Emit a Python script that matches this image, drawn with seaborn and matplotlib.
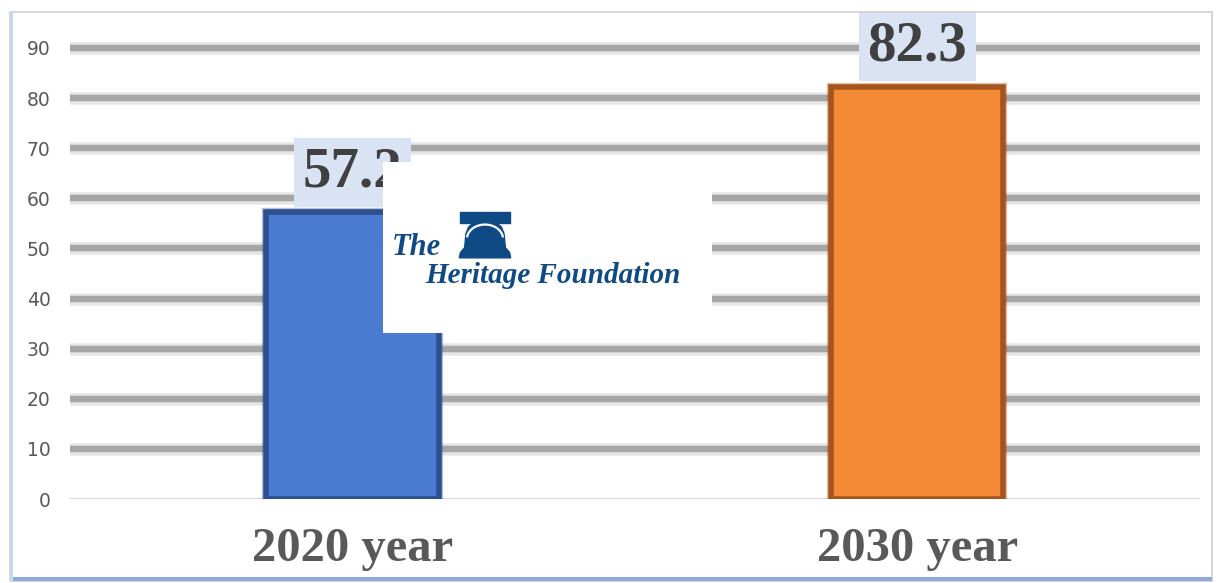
import matplotlib
matplotlib.use("Agg")
import matplotlib.pyplot as plt
import seaborn as sns
import pandas as pd
from matplotlib.patches import Rectangle, Polygon, Arc
import matplotlib.patheffects as pe

# chart data
years = ["2020 year", "2030 year"]
values = [57.2, 82.3]
bar_colors = ["#4a7bd0", "#f58a36"]
edge_colors = ["#2c4f8f", "#a5541c"]
y_ticks = list(range(0, 100, 10))

sns.set_style("white")
plt.rcParams["font.family"] = ["DejaVu Sans"]

fig = plt.figure(figsize=(12.18, 5.83), dpi=100)
ax = fig.add_axes([0.0575, 0.144, 0.9275, 0.791])

df = pd.DataFrame({"year": years, "value": values})
sns.barplot(data=df, x="year", y="value", hue="year", palette=bar_colors,
            width=0.305, saturation=1, legend=False, ax=ax, zorder=3)

for bar, ec in zip(ax.patches, edge_colors):
    bar.set_edgecolor(ec)
    bar.set_linewidth(4)
    bar.set_path_effects([pe.withStroke(linewidth=6, foreground=ec, alpha=0.35)])

ax.set_ylim(0, 92)
ax.set_yticks(y_ticks)
ax.set_xlim(-0.5, 1.5)
ax.set_xlabel("")
ax.set_ylabel("")
for s in ax.spines.values():
    s.set_visible(False)

# thick shaded gridlines
ax.yaxis.grid(True, zorder=0)
ax.set_axisbelow(True)
for i, gl in enumerate(ax.get_ygridlines()):
    if y_ticks[i] == 0:
        gl.set_color("#d9d9d9")
        gl.set_linewidth(1.5)
    else:
        gl.set_color("#a6a6a6")
        gl.set_linewidth(4.5)
        gl.set_path_effects([pe.withStroke(linewidth=9, foreground="#e6e6e6"),
                             pe.Normal()])

ax.tick_params(axis="y", length=0, pad=14, labelsize=13.5, labelcolor="#595959")
ax.tick_params(axis="x", length=0, pad=20, labelcolor="#595959")
for lbl in ax.get_xticklabels():
    lbl.set_fontfamily("Liberation Serif")
    lbl.set_fontweight("bold")
    lbl.set_fontsize(35)

for cont in ax.containers:
    bars = [b for b in cont if b is not None and b.get_height() > 0]
    for b in bars:
        ax.annotate(f"{b.get_height():.1f}", (b.get_x() + b.get_width() / 2, b.get_height()),
                    xytext=(0, 10), textcoords="offset points", ha="center", va="bottom",
                    fontsize=41, fontweight="bold", family="Liberation Serif",
                    color="#404040", zorder=4,
                    bbox=dict(boxstyle="square,pad=0.15", fc="#dae3f3", ec="none"))

# logo box overlay
logo = fig.add_axes([0.3145, 0.4288, 0.270, 0.293])
logo.set_xlim(0, 1)
logo.set_ylim(0, 1)
logo.set_facecolor("white")
logo.set_xticks([])
logo.set_yticks([])
for s in logo.spines.values():
    s.set_visible(False)
blue = "#0f4a85"
logo.add_patch(Rectangle((0.234, 0.645), 0.152, 0.065, color=blue))
logo.add_patch(Polygon([(0.232, 0.44), (0.388, 0.44), (0.385, 0.47), (0.372, 0.50),
                        (0.368, 0.58), (0.36, 0.62), (0.345, 0.645), (0.275, 0.645),
                        (0.26, 0.62), (0.252, 0.58), (0.248, 0.50), (0.235, 0.47)],
                       closed=True, color=blue))
logo.add_patch(Arc((0.31, 0.55), 0.11, 0.17, theta1=10, theta2=170,
                   color="white", lw=1.6))
logo.text(0.025, 0.50, "The", fontsize=22, style="italic", fontweight="bold",
          color=blue, family="Liberation Serif", va="center", ha="left")
logo.text(0.127, 0.335, "Heritage Foundation", fontsize=21, style="italic",
          fontweight="bold", color=blue, family="Liberation Serif",
          va="center", ha="left")

# chart frame
fig.patches.append(Rectangle((0.008, 0.004), 0.987, 0.975, transform=fig.transFigure,
                             fill=False, ec="#d0d0d0", lw=1.2))
fig.patches.append(Rectangle((0.008, 0.004), 0.987, 0.006, transform=fig.transFigure,
                             fc="#8eaadb", ec="none"))
fig.patches.append(Rectangle((0.008, 0.004), 0.003, 0.975, transform=fig.transFigure,
                             fc="#c9d7ef", ec="none"))

fig.savefig("out.png", dpi=100)
